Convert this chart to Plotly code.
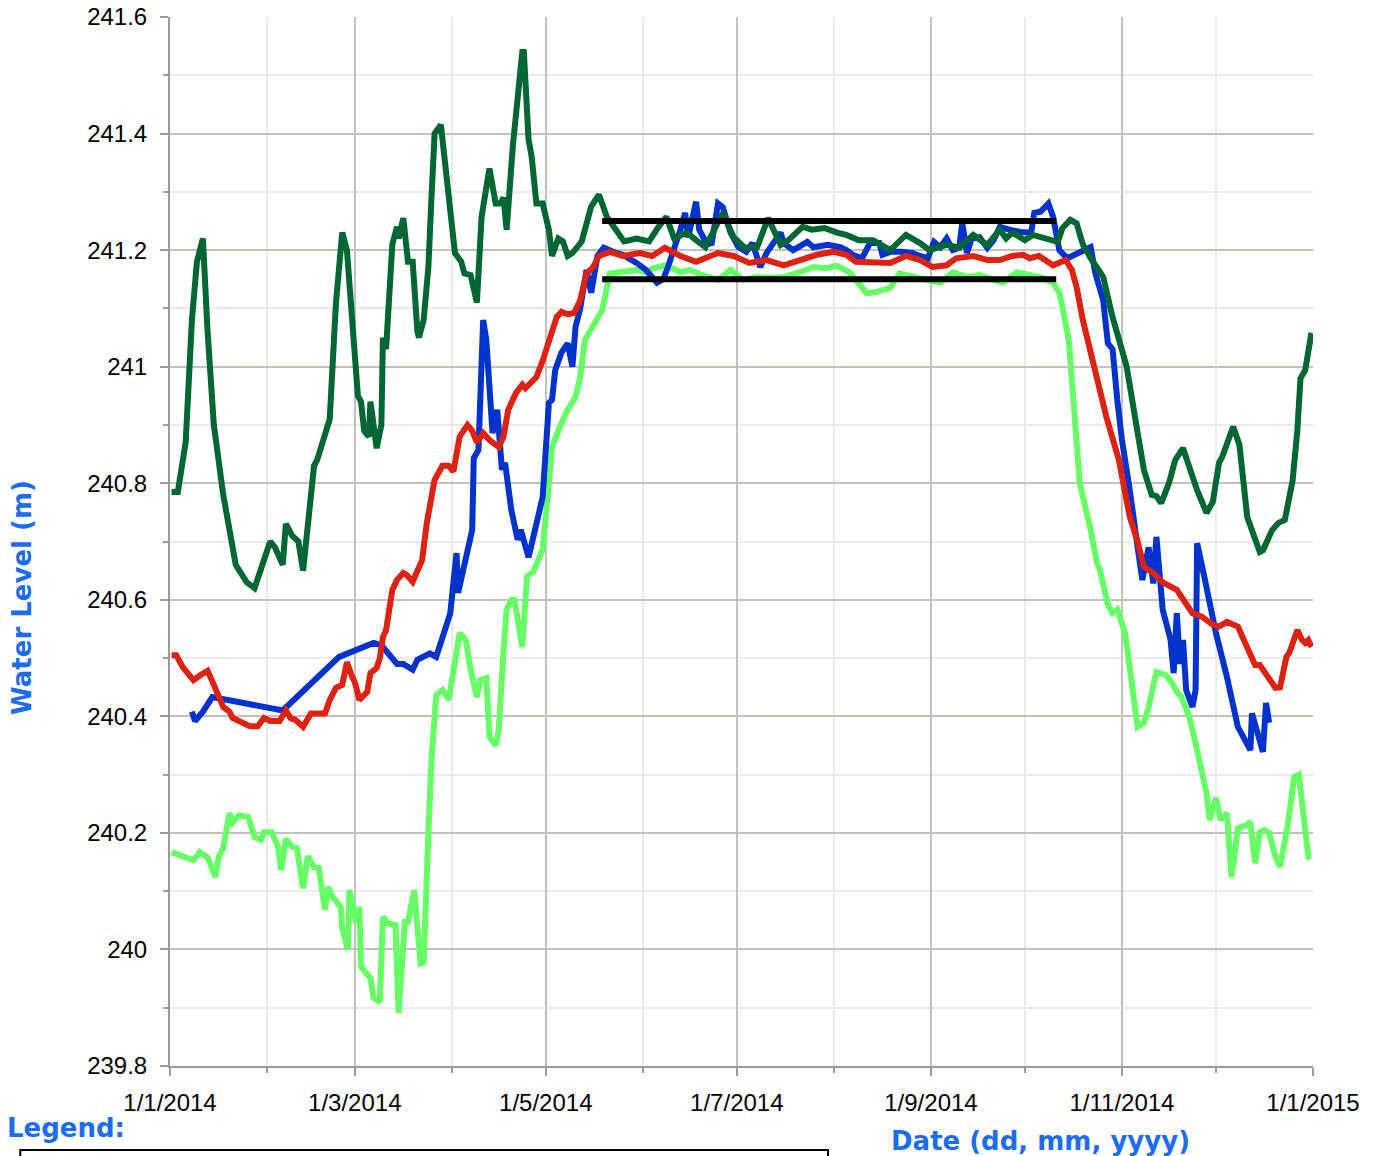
import pandas as pd
import plotly.graph_objects as go

START = pd.Timestamp("2014-01-01")

# ---- data (day offset from 1 Jan 2014, water level in m) ----
dg_days = [0.5, 2.5, 5, 7, 8.6, 10.5, 12, 14, 17, 21, 24.5, 27, 32, 33.5, 36, 37, 39, 41, 42.5, 44, 46, 47, 51, 53, 55,
           56.5, 58.5, 60, 61, 62, 63.5, 64, 66, 67.5, 68, 69, 71, 72.5, 73, 74.5, 76, 77.5, 79, 79.5, 81, 82.5, 83.5,
           84.5, 86.5, 88.5, 91, 93, 94, 96, 98, 99.5, 102, 104, 105.5, 106.5, 107.5, 109.5, 112.5, 113, 114.5, 115.5,
           117, 119, 121, 122, 124, 125.5, 127, 128.5, 131.5, 134.5, 137, 139.5, 141.5, 145, 149, 153, 156, 158.5, 161,
           165, 168, 171, 176.5, 180, 183.5, 187.5, 191, 195, 197.5, 202, 205, 209, 213, 216, 220, 224.5, 230, 235,
           239.5, 242.5, 248, 252, 256.5, 261, 265, 267, 269, 273, 275.5, 280, 283.5, 285, 287.5, 289.5, 291.5, 294,
           298, 301, 305.5, 309, 311, 313.5, 315, 316.5, 319, 321, 323.5, 325.5, 328, 331, 333, 335, 336, 339.5, 341.5,
           344, 348, 349, 352, 354, 356, 358.5, 360, 361, 362.5, 364.5]
dg_vals = [240.785, 240.785, 240.87, 241.08, 241.18, 241.22, 241.06, 240.90, 240.78, 240.66, 240.63, 240.62, 240.70,
           240.69, 240.66, 240.73, 240.71, 240.70, 240.65, 240.72, 240.83, 240.84, 240.91, 241.11, 241.23, 241.20,
           241.07, 240.95, 240.94, 240.89, 240.88, 240.94, 240.86, 240.90, 241.05, 241.03, 241.21, 241.24, 241.22,
           241.255, 241.18, 241.18, 241.06, 241.05, 241.08, 241.17, 241.29, 241.40, 241.415, 241.315, 241.195, 241.18,
           241.16, 241.157, 241.11, 241.257, 241.34, 241.28, 241.28, 241.29, 241.235, 241.38, 241.54, 241.54, 241.39,
           241.36, 241.28, 241.28, 241.235, 241.19, 241.22, 241.215, 241.19, 241.195, 241.215, 241.275, 241.295,
           241.257, 241.24, 241.215, 241.22, 241.215, 241.24, 241.257, 241.22, 241.23, 241.217, 241.205, 241.264,
           241.222, 241.204, 241.205, 241.255, 241.209, 241.217, 241.24, 241.235, 241.238, 241.23, 241.226, 241.217,
           241.217, 241.20, 241.226, 241.212, 241.20, 241.209, 241.204, 241.226, 241.209, 241.235, 241.22, 241.23,
           241.217, 241.226, 241.22, 241.214, 241.238, 241.252, 241.246, 241.21, 241.186, 241.154, 241.085, 241.00,
           240.886, 240.823, 240.78, 240.778, 240.766, 240.80, 240.84, 240.86, 240.828, 240.788, 240.749, 240.768,
           240.835, 240.845, 240.897, 240.866, 240.742, 240.682, 240.685, 240.72, 240.732, 240.737, 240.805, 240.89,
           240.98, 240.994, 241.058]

bl_days = [7, 8, 10.5, 13.5, 36, 54, 65, 67.5, 72.5, 74.5, 77.5, 79, 83, 85, 88.5, 89.5, 91.5, 92, 96.5, 97, 98.5, 100,
           101, 102, 103, 104.5, 106, 107, 109, 111, 112, 114.5, 117, 119, 121, 122, 123, 125, 127, 128.5, 129.5, 131,
           133, 134.5, 136.5, 138.5, 141.5, 144.5, 149, 152, 155.5, 157.5, 159, 161, 163, 164.5, 165.5, 168, 169,
           171.5, 173, 175, 176.5, 179, 181.5, 184, 186, 188.5, 190.5, 195, 196, 199, 203.5, 205.5, 210, 214, 216, 218,
           221, 223.5, 226.5, 227.5, 230, 233.5, 237, 239.5, 242, 244, 246, 248, 250, 252, 253, 254.5, 256, 258.5, 261,
           263, 265, 268, 271.5, 275, 276, 278, 280.5, 282, 284, 286.5, 290.5, 293, 294, 295.5, 298, 299.5, 301, 302.5,
           304, 306.5, 308, 309, 310.5, 312.5, 314, 315, 317, 319.5, 320.5, 321.5, 322.5, 323.5, 324.5, 326.5, 327.5,
           328, 330.5, 334, 337.5, 341, 345, 345.5, 347, 349, 350, 351]
bl_vals = [240.408, 240.392, 240.408, 240.433, 240.41, 240.502, 240.526, 240.522, 240.49, 240.49, 240.48, 240.497,
           240.508, 240.502, 240.56, 240.577, 240.68, 240.612, 240.72, 240.843, 240.857, 241.08, 241.046, 240.943,
           240.886, 240.926, 240.823, 240.835, 240.754, 240.703, 240.72, 240.673, 240.725, 240.776, 240.938, 240.943,
           240.994, 241.024, 241.04, 241.00, 241.068, 241.10, 241.166, 241.127, 241.19, 241.204, 241.197, 241.192,
           241.178, 241.166, 241.144, 241.15, 241.171, 241.20, 241.235, 241.264, 241.222, 241.283, 241.235, 241.21,
           241.212, 241.28, 241.274, 241.23, 241.205, 241.197, 241.212, 241.171, 241.195, 241.23, 241.212, 241.20,
           241.214, 241.205, 241.209, 241.205, 241.20, 241.192, 241.186, 241.212, 241.212, 241.192, 241.197, 241.197,
           241.195, 241.19, 241.186, 241.214, 241.205, 241.22, 241.20, 241.204, 241.246, 241.195, 241.22, 241.222,
           241.204, 241.217, 241.24, 241.235, 241.231, 241.23, 241.264, 241.266, 241.28, 241.257, 241.20, 241.186,
           241.197, 241.204, 241.205, 241.16, 241.114, 241.04, 241.03, 240.943, 240.874, 240.788, 240.737, 240.69,
           240.634, 240.69, 240.628, 240.708, 240.583, 240.532, 240.474, 240.577, 240.49, 240.531, 240.445, 240.416,
           240.445, 240.697, 240.634, 240.543, 240.468, 240.382, 240.342, 240.405, 240.377, 240.339, 240.423, 240.389]

rd_days = [0.5, 2, 4, 7.5, 9.5, 12, 14, 17, 19, 20, 25.5, 28, 30, 32, 35, 37, 38.5, 40, 42.5, 45, 47, 49.5, 51, 53, 55,
           56.5, 58, 59, 60.5, 63, 64, 66, 67, 68, 69, 70.5, 71, 72.5, 74.5, 75.5, 77.5, 80.5, 82, 84.5, 87, 89, 90.5,
           92.5, 95, 96.5, 98, 100, 102, 105, 106.5, 108, 110.5, 112.5, 113.5, 115.5, 117, 119, 121.5, 123.5, 125, 127,
           129, 131, 133, 135, 137, 140.5, 144.5, 150, 154, 158, 163, 168, 175, 180, 185, 190.5, 196, 201, 206.5, 212,
           216, 219, 224.5, 230, 235, 239.5, 243.5, 248, 251, 256.5, 261, 265, 269, 272.5, 274.5, 277.5, 282, 286, 288,
           289.5, 291.5, 296, 299, 303, 306.5, 309, 311, 314, 317, 321.5, 323.5, 326.5, 329.5, 333, 335, 337.5, 341,
           344, 346.5, 348, 351, 353, 354.5, 356.5, 357.5, 360, 361.5, 362.5, 363.5, 364.5]
rd_vals = [240.505, 240.505, 240.485, 240.462, 240.47, 240.478, 240.454, 240.416, 240.408, 240.397, 240.383, 240.383,
           240.397, 240.392, 240.392, 240.41, 240.397, 240.394, 240.382, 240.405, 240.405, 240.405, 240.428, 240.449,
           240.454, 240.493, 240.47, 240.459, 240.428, 240.442, 240.474, 240.483, 240.50, 240.536, 240.548, 240.60,
           240.617, 240.634, 240.646, 240.643, 240.631, 240.668, 240.732, 240.806, 240.83, 240.83, 240.82, 240.88,
           240.90, 240.89, 240.87, 240.886, 240.874, 240.862, 240.88, 240.926, 240.955, 240.969, 240.963, 240.974,
           240.982, 241.01, 241.05, 241.085, 241.094, 241.09, 241.092, 241.114, 241.16, 241.17, 241.19, 241.197, 241.19,
           241.195, 241.19, 241.204, 241.19, 241.18, 241.195, 241.19, 241.178, 241.183, 241.174, 241.183, 241.192,
           241.197, 241.192, 241.18, 241.178, 241.178, 241.19, 241.183, 241.171, 241.174, 241.186, 241.19, 241.183,
           241.183, 241.19, 241.192, 241.186, 241.19, 241.174, 241.183, 241.166, 241.137, 241.08, 240.982, 240.914,
           240.84, 240.742, 240.70, 240.656, 240.646, 240.63, 240.617, 240.60, 240.577, 240.571, 240.557, 240.554,
           240.562, 240.554, 240.52, 240.488, 240.488, 240.466, 240.449, 240.45, 240.502, 240.51, 240.548, 240.531,
           240.526, 240.531, 240.519]

lg_days = [0.5, 3, 5, 7.5, 9.5, 12, 14.5, 15.5, 17, 19, 20, 22, 25, 27, 29, 30, 32.5, 34.5, 35.5, 37, 39, 40.5, 42.5,
           44, 46, 47.5, 49.5, 50.5, 52, 54.5, 55, 56.8, 57.3, 58.5, 59.5, 60.5, 61, 64, 65, 67, 68, 69.5, 72, 73, 75, 76,
           78, 80, 81, 82.5, 83.5, 85, 87, 89, 91, 92.5, 94.5, 96, 98, 99, 101, 102, 104, 105, 106.5, 107.5, 109, 110,
           112.5, 114, 116, 117.5, 119, 121, 122, 124.5, 127, 129.5, 131, 132.5, 134, 136.5, 138, 140.5, 144.5, 149,
           152, 154.5, 158.5, 163, 166, 170, 175, 179, 183, 187.5, 191.5, 196, 201, 205.5, 209.5, 213, 217, 220, 222.5,
           225.5, 230, 233, 237, 241.5, 246, 250, 254.5, 258.5, 263, 266, 270.5, 274.5, 279, 282, 284, 285, 287, 288.5,
           290.5, 294, 296, 297, 299.5, 301, 302.5, 305, 306.5, 309, 311, 312.5, 315, 318, 320, 321.5, 323, 325.5, 328,
           331, 332, 334, 335.5, 337.5, 339, 341, 344, 345, 346.5, 348, 349.5, 351, 353, 354.5, 357, 359, 360.5, 362,
           363.5, 364.5]
lg_vals = [240.167, 240.162, 240.16, 240.153, 240.167, 240.158, 240.124, 240.158, 240.174, 240.234, 240.218, 240.23,
           240.227, 240.193, 240.188, 240.201, 240.201, 240.176, 240.136, 240.19, 240.176, 240.174, 240.105, 240.16,
           240.141, 240.14, 240.068, 240.107, 240.09, 240.073, 240.037, 239.999, 240.102, 240.073, 240.045, 240.073,
           239.97, 239.951, 239.917, 239.91, 240.056, 240.045, 240.042, 239.891, 240.047, 240.047, 240.102, 239.976,
           239.978, 240.20, 240.325, 240.437, 240.445, 240.428, 240.488, 240.543, 240.53, 240.48, 240.433, 240.462,
           240.466, 240.365, 240.35, 240.377, 240.514, 240.583, 240.60, 240.60, 240.519, 240.64, 240.648, 240.668,
           240.686, 240.80, 240.862, 240.897, 240.926, 240.948, 240.982, 241.046, 241.06, 241.083, 241.097, 241.16,
           241.162, 241.166, 241.162, 241.169, 241.174, 241.162, 241.166, 241.157, 241.149, 241.166, 241.149, 241.154,
           241.152, 241.154, 241.162, 241.171, 241.169, 241.173, 241.162, 241.144, 241.126, 241.128, 241.135, 241.16,
           241.154, 241.149, 241.144, 241.162, 241.154, 241.157, 241.149, 241.144, 241.162, 241.157, 241.152, 241.144,
           241.126, 241.102, 241.046, 240.943, 240.80, 240.72, 240.663, 240.651, 240.591, 240.577, 240.583, 240.543,
           240.485, 240.382, 240.389, 240.416, 240.476, 240.471, 240.457, 240.442, 240.433, 240.399, 240.342, 240.268,
           240.222, 240.26, 240.222, 240.234, 240.124, 240.208, 240.214, 240.219, 240.148, 240.201, 240.205, 240.20,
           240.159, 240.142, 240.216, 240.296, 240.30, 240.234, 240.159, 240.159]

ref_dates = ["2014-05-19", "2014-10-11"]
ref_upper = [241.25, 241.25]
ref_lower = [241.15, 241.15]

x_tick_dates = ["2014-01-01", "2014-03-01", "2014-05-01", "2014-07-01", "2014-09-01", "2014-11-01", "2015-01-01"]
x_tick_labels = ["1/1/2014", "1/3/2014", "1/5/2014", "1/7/2014", "1/9/2014", "1/11/2014", "1/1/2015"]
y_ticks = [239.8, 240.0, 240.2, 240.4, 240.6, 240.8, 241.0, 241.2, 241.4, 241.6]
y_tick_labels = ["239.8", "240", "240.2", "240.4", "240.6", "240.8", "241", "241.2", "241.4", "241.6"]


def to_dates(days):
    return [START + pd.Timedelta(days=d) for d in days]


fig = go.Figure()
series = [
    (lg_days, lg_vals, "#66ff66"),
    (bl_days, bl_vals, "#0033cc"),
    (dg_days, dg_vals, "#006633"),
    (rd_days, rd_vals, "#dd2211"),
]
for d, v, c in series:
    fig.add_trace(go.Scatter(x=to_dates(d), y=v, mode="lines",
                             line=dict(color=c, width=6, shape="linear"), showlegend=False))
for yv in (ref_upper, ref_lower):
    fig.add_trace(go.Scatter(x=ref_dates, y=yv, mode="lines",
                             line=dict(color="#000000", width=6), showlegend=False))

TITLE_BLUE = "#1a6cf2"
TFONT = dict(family="DejaVu Sans", size=26, color=TITLE_BLUE, weight="bold")

fig.update_layout(
    width=1376, height=1156,
    margin=dict(l=170, r=63, t=17, b=90, pad=0),
    paper_bgcolor="white", plot_bgcolor="white",
    font=dict(family="Liberation Sans, Arial", size=24, color="#000000"),
    xaxis=dict(
        type="date", range=["2014-01-01", "2015-01-01"], automargin=False,
        tickvals=x_tick_dates, ticktext=x_tick_labels,
        showgrid=True, gridcolor="#c2c2bd", gridwidth=2,
        showline=True, linecolor="#9a9a96", linewidth=2,
        ticks="outside", ticklen=8, tickwidth=2, tickcolor="#9a9a96",
        ticklabelstandoff=6, zeroline=False,
        minor=dict(dtick="M1", showgrid=True, gridcolor="#ebebeb", gridwidth=2,
                   ticks="outside", ticklen=5, tickwidth=2, tickcolor="#9a9a96"),
        tickfont=dict(size=24),
    ),
    yaxis=dict(
        range=[239.8, 241.6], tickvals=y_ticks, ticktext=y_tick_labels, automargin=False,
        showgrid=True, gridcolor="#c2c2bd", gridwidth=2,
        showline=True, linecolor="#9a9a96", linewidth=2,
        ticks="outside", ticklen=8, tickwidth=2, tickcolor="#9a9a96",
        ticklabelstandoff=8, zeroline=False,
        minor=dict(dtick=0.1, tick0=239.8, showgrid=True, gridcolor="#ebebeb", gridwidth=2,
                   ticks="outside", ticklen=5, tickwidth=2, tickcolor="#9a9a96"),
        tickfont=dict(size=24),
    ),
    annotations=[
        dict(text="Water Level (m)", xref="paper", yref="paper", x=-0.1295, y=0.4471,
             textangle=-90, showarrow=False, font=TFONT, xanchor="center", yanchor="middle"),
        dict(text="Legend:", xref="paper", yref="paper", x=-0.1444, y=-0.0591,
             showarrow=False, font=TFONT, xanchor="left", yanchor="middle"),
        dict(text="Date (dd, mm, yyyy)", xref="paper", yref="paper", x=0.7612, y=-0.0712,
             showarrow=False, font=TFONT, xanchor="center", yanchor="middle"),
    ],
    shapes=[
        dict(type="rect", xref="paper", yref="paper", x0=-0.131, x1=0.5757, y0=-0.2, y1=-0.0801,
             line=dict(color="#000000", width=2), fillcolor="rgba(0,0,0,0)"),
    ],
)

fig.write_html("out.html", config={"displayModeBar": False},
               post_script="document.body.style.margin='0';")
